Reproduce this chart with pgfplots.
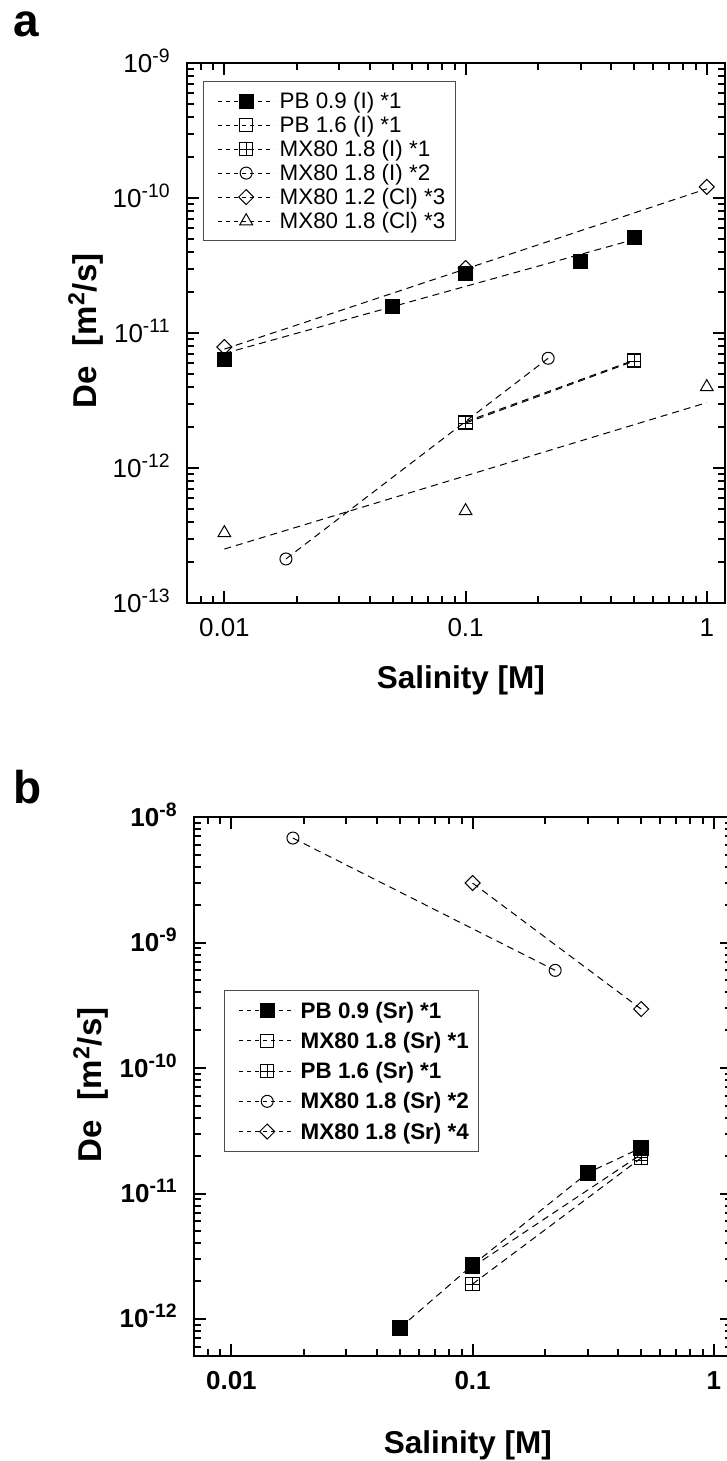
\documentclass[border=0pt]{standalone}
\usepackage{fontspec}
\setmainfont{Liberation Sans}
\newfontfamily\tkfont[Scale=1.3]{Liberation Sans}
\newfontfamily\exfont[Scale=0.97]{Liberation Sans}
\newfontfamily\lgfont[Scale=1.12]{Liberation Sans}
\usepackage{pgfplots}
\pgfplotsset{compat=1.18}
\usetikzlibrary{plotmarks}

\pgfdeclareplotmark{boxplus}{%
  \pgfpathrectangle{\pgfqpoint{-\pgfplotmarksize}{-\pgfplotmarksize}}{\pgfqpoint{2\pgfplotmarksize}{2\pgfplotmarksize}}%
  \pgfpathmoveto{\pgfqpoint{-\pgfplotmarksize}{0pt}}\pgfpathlineto{\pgfqpoint{\pgfplotmarksize}{0pt}}%
  \pgfpathmoveto{\pgfqpoint{0pt}{-\pgfplotmarksize}}\pgfpathlineto{\pgfqpoint{0pt}{\pgfplotmarksize}}%
  \pgfusepathqstroke}
\pgfdeclareplotmark{rdiamond}{%
  \pgfpathmoveto{\pgfqpoint{0pt}{\pgfplotmarksize}}%
  \pgfpathlineto{\pgfqpoint{\pgfplotmarksize}{0pt}}%
  \pgfpathlineto{\pgfqpoint{0pt}{-\pgfplotmarksize}}%
  \pgfpathlineto{\pgfqpoint{-\pgfplotmarksize}{0pt}}%
  \pgfpathclose\pgfusepathqstroke}

\newcommand{\tx}[1]{{\tkfont 10\raisebox{5pt}{\exfont #1}}}
\newcommand{\lent}[1]{\lgfont\rule[-3pt]{0pt}{12pt}#1}

\pgfplotsset{
  dl/.style={black, line width=0.5pt, dash pattern=on 3.5pt off 2.5pt, mark options={solid, line width=0.5pt}},
  om/.style={black, only marks, line width=0.5pt, mark options={solid, line width=0.5pt}},
  myaxis/.style={
    scale only axis,
    width=269pt,
    xmin=0.007, xmax=1.19,
    axis line style={line width=1pt},
    every tick/.style={black, line width=1pt},
    tick align=inside,
    major tick length=6pt, minor tick length=3.5pt,
    xtick={0.01,0.1,1}, xticklabels={{\tkfont 0.01},{\tkfont 0.1},{\tkfont 1}},
    minor xtick={0.007,0.008,0.009,0.02,0.03,0.04,0.05,0.06,0.07,0.08,0.09,0.2,0.3,0.4,0.5,0.6,0.7,0.8,0.9},
    xticklabel style={anchor=north, inner sep=0pt, yshift=-7.5pt},
    yticklabel style={anchor=base east, inner sep=0pt, xshift=-8.5pt, yshift=-4.5pt},
    every axis x label/.style={at={(axis description cs:0.509,0)}, anchor=base},
    every axis y label/.style={at={(axis description cs:-0.1673,0.504)}, rotate=90, anchor=base},
    legend cell align=left,
    legend image code/.code={%
      \path (0pt,0pt);
      \draw[black, line width=0.5pt, dash pattern=on 2pt off 2pt] (4.5pt,0pt) -- (32.5pt,0pt);
      \draw[black, line width=0.5pt, solid] plot coordinates {(18.5pt,0pt)};
    },
  }
}

\begin{document}
\begin{tikzpicture}
\useasboundingbox (0,0) rectangle (363.5pt,730.5pt);
\clip (0,0) rectangle (363.5pt,730.5pt);

\node[anchor=base west, inner sep=0pt, font=\bfseries\fontsize{23pt}{25pt}\selectfont] at (6.5pt,712pt) {a};
\node[anchor=base west, inner sep=0pt, font=\bfseries\fontsize{23pt}{25pt}\selectfont] at (6.5pt,328.5pt) {b};

% ---------------- panel a ----------------
\begin{loglogaxis}[myaxis,
  at={(93.5pt,429pt)}, anchor=south west, height=270pt,
  ymin=1e-13, ymax=1e-9,
  ytick={1e-13,1e-12,1e-11,1e-10,1e-9},
  yticklabels={\tx{-13},\tx{-12},\tx{-11},\tx{-10},\tx{-9}},
  minor ytick={2e-13,3e-13,4e-13,5e-13,6e-13,7e-13,8e-13,9e-13,
               2e-12,3e-12,4e-12,5e-12,6e-12,7e-12,8e-12,9e-12,
               2e-11,3e-11,4e-11,5e-11,6e-11,7e-11,8e-11,9e-11,
               2e-10,3e-10,4e-10,5e-10,6e-10,7e-10,8e-10,9e-10},
  xlabel={Salinity [M]},
  ylabel={De\hspace{0.6em}[m\textsuperscript{2}/s]},
  xlabel style={font=\bfseries\fontsize{15.75pt}{17pt}\selectfont, yshift=-42.5pt},
  ylabel style={font=\bfseries\fontsize{16.5pt}{18pt}\selectfont},
  legend style={at={(0.0297,0.9667)}, anchor=north west, draw=black!70, line width=0.6pt,
    inner xsep=2.5pt, inner ysep=4.5pt, row sep=1.5pt,
    nodes={inner xsep=2.5pt, inner ysep=0pt}},
]
\addlegendimage{mark=square*, mark size=3.5pt}
\addlegendentry{\lent{PB 0.9 (I) *1}}
\addlegendimage{mark=square, mark size=3.3pt}
\addlegendentry{\lent{PB 1.6 (I) *1}}
\addlegendimage{mark=boxplus, mark size=3.3pt}
\addlegendentry{\lent{MX80 1.8 (I) *1}}
\addlegendimage{mark=o, mark size=3pt}
\addlegendentry{\lent{MX80 1.8 (I) *2}}
\addlegendimage{mark=rdiamond, mark size=3.75pt}
\addlegendentry{\lent{MX80 1.2 (Cl) *3}}
\addlegendimage{mark=triangle, mark size=3.7pt}
\addlegendentry{\lent{MX80 1.8 (Cl) *3}}

% PB 0.9 (I) *1
\addplot[dl, no marks, forget plot] coordinates {(0.01,7.06e-12) (0.5,4.93e-11)};
\addplot[om, mark=square*, mark size=3.5pt, forget plot] coordinates {(0.01,6.4e-12) (0.05,1.58e-11) (0.1,2.74e-11) (0.3,3.41e-11) (0.5,5.06e-11)};
% PB 1.6 (I) *1
\addplot[dl, mark=square, mark size=3.3pt, forget plot] coordinates {(0.1,2.2e-12) (0.5,6.3e-12)};
% MX80 1.8 (I) *1
\addplot[dl, mark=boxplus, mark size=3.3pt, forget plot] coordinates {(0.1,2.15e-12) (0.5,6.2e-12)};
% MX80 1.8 (I) *2
\addplot[dl, mark=o, mark size=3pt, forget plot] coordinates {(0.018,2.12e-13) (0.22,6.5e-12)};
% MX80 1.2 (Cl) *3
\addplot[dl, no marks, forget plot] coordinates {(0.01,7.6e-12) (1,1.17e-10)};
\addplot[om, mark=rdiamond, mark size=3.75pt, forget plot] coordinates {(0.01,7.87e-12) (0.1,3.03e-11) (1,1.21e-10)};
% MX80 1.8 (Cl) *3
\addplot[dl, no marks, forget plot] coordinates {(0.01,2.51e-13) (1,3.05e-12)};
\addplot[om, mark=triangle, mark size=3.7pt, forget plot] coordinates {(0.01,3.3e-13) (0.1,4.8e-13) (1,3.98e-12)};
\end{loglogaxis}

% ---------------- panel b ----------------
\begin{loglogaxis}[myaxis,
  at={(97pt,52.5pt)}, anchor=south west, height=269.5pt,
  ymin=5.07e-13, ymax=1e-8,
  ytick={1e-12,1e-11,1e-10,1e-9,1e-8},
  yticklabels={\tx{-12},\tx{-11},\tx{-10},\tx{-9},\tx{-8}},
  minor ytick={6e-13,7e-13,8e-13,9e-13,
               2e-12,3e-12,4e-12,5e-12,6e-12,7e-12,8e-12,9e-12,
               2e-11,3e-11,4e-11,5e-11,6e-11,7e-11,8e-11,9e-11,
               2e-10,3e-10,4e-10,5e-10,6e-10,7e-10,8e-10,9e-10,
               2e-9,3e-9,4e-9,5e-9,6e-9,7e-9,8e-9,9e-9},
  tick label style={font=\bfseries},
  xlabel={Salinity [M]},
  ylabel={De\hspace{0.6em}[m\textsuperscript{2}/s]},
  xlabel style={font=\bfseries\fontsize{15.75pt}{17pt}\selectfont, yshift=-48.5pt},
  ylabel style={font=\bfseries\fontsize{16.5pt}{18pt}\selectfont, at={(axis description cs:-0.171,0.503)}},
  legend style={at={(0.0558,0.679)}, anchor=north west, draw=black!70, line width=0.6pt,
    inner xsep=2.5pt, inner ysep=4.8pt, row sep=4.6pt, font=\bfseries,
    nodes={inner xsep=2.5pt, inner ysep=0pt}},
]
\addlegendimage{mark=square*, mark size=3.5pt}
\addlegendentry{\lent{\bfseries PB 0.9 (Sr) *1}}
\addlegendimage{mark=square, mark size=3.3pt}
\addlegendentry{\lent{\bfseries MX80 1.8 (Sr) *1}}
\addlegendimage{mark=boxplus, mark size=3.3pt}
\addlegendentry{\lent{\bfseries PB 1.6 (Sr) *1}}
\addlegendimage{mark=o, mark size=3pt}
\addlegendentry{\lent{\bfseries MX80 1.8 (Sr) *2}}
\addlegendimage{mark=rdiamond, mark size=3.75pt}
\addlegendentry{\lent{\bfseries MX80 1.8 (Sr) *4}}

% MX80 1.8 (Sr) *1
\addplot[dl, mark=square, mark size=3.3pt, forget plot] coordinates {(0.1,2.6e-12) (0.5,2.05e-11)};
% PB 1.6 (Sr) *1
\addplot[dl, mark=boxplus, mark size=3.3pt, forget plot] coordinates {(0.1,1.9e-12) (0.5,1.92e-11)};
% MX80 1.8 (Sr) *2
\addplot[dl, mark=o, mark size=3pt, forget plot] coordinates {(0.018,6.8e-9) (0.22,6.0e-10)};
% MX80 1.8 (Sr) *4
\addplot[dl, mark=rdiamond, mark size=3.75pt, forget plot] coordinates {(0.1,2.98e-9) (0.5,2.95e-10)};
% PB 0.9 (Sr) *1
\addplot[dl, mark=square*, mark size=3.7pt, forget plot] coordinates {(0.05,8.5e-13) (0.1,2.69e-12) (0.3,1.46e-11) (0.5,2.31e-11)};
\end{loglogaxis}
\end{tikzpicture}
\end{document}
